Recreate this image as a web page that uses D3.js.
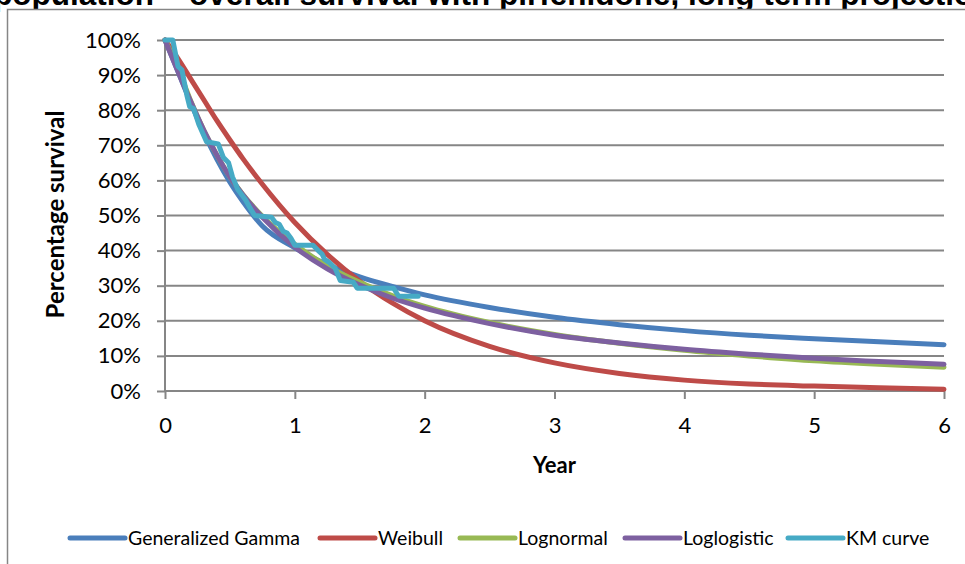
<!DOCTYPE html>
<html>
<head>
<meta charset="utf-8">
<script src="https://cdn.jsdelivr.net/npm/d3@7"></script>
<style>
  html, body { margin: 0; padding: 0; background: #fff; }
  svg { display: block; font-family: Lato, "Liberation Sans", Arial, sans-serif; }
</style>
</head>
<body>
<svg id="chart" width="965" height="564"></svg>
<script>
// Chart text
const titleText = "population \u2013 overall survival with pirfenidone, long term projections";
const xAxisTitle = "Year";
const yAxisTitle = "Percentage survival";

// Axis ticks
const yearTicks = [0, 1, 2, 3, 4, 5, 6];
const pctTicks = [0, 10, 20, 30, 40, 50, 60, 70, 80, 90, 100];

// Parametric model predictions (percent surviving) at these years
const fitYears    = [0, 0.1, 0.2, 0.3, 0.4, 0.5, 0.6, 0.75, 1, 1.25, 1.5, 1.75, 2, 2.5, 3, 3.5, 4, 4.5, 5, 5.5, 6];
const genGamma    = [100, 91, 82, 73.5, 66, 59.5, 54, 47, 40.8, 36, 32.5, 29.8, 27.4, 23.8, 21, 18.9, 17.2, 15.9, 14.9, 14.0, 13.2];
const weibull     = [100, 94.7, 88.8, 82.9, 77, 71.5, 66.2, 58.9, 48, 38.9, 31.3, 25.1, 20, 12.7, 8, 5, 3.1, 2.0, 1.4, 0.9, 0.5];
const lognormal   = [100, 92, 82.5, 74.2, 67.2, 61, 56, 49.8, 41.8, 35.6, 31, 27.2, 24.1, 19.5, 16.1, 13.6, 11.6, 10.0, 8.6, 7.6, 6.8];
const loglogistic = [100, 91, 82.3, 74.2, 67.2, 61, 55.9, 49.5, 41, 34.8, 30.2, 26.5, 23.6, 19.2, 15.9, 13.7, 11.9, 10.5, 9.3, 8.4, 7.6];

// Kaplan-Meier estimate
const kmYears    = [0, 0.06, 0.10, 0.13, 0.17, 0.19, 0.22, 0.26, 0.32, 0.41, 0.45, 0.49, 0.52, 0.56, 0.62, 0.65, 0.69, 0.82, 0.85, 0.88, 0.91, 0.94, 0.97, 1.0, 1.14, 1.18, 1.21, 1.23, 1.27, 1.31, 1.35, 1.45, 1.48, 1.76, 1.80, 1.95];
const kmSurvival = [100, 100, 92.5, 91.5, 84, 81, 80.5, 76, 71, 70.4, 66.5, 65, 61, 57.5, 54.5, 52.5, 50, 49.5, 48, 47.5, 45.5, 45, 43.5, 41.5, 41.5, 40, 39, 37.5, 36.5, 35, 31.5, 31, 29.3, 29.3, 27, 27];

const seriesNames  = ["Generalized Gamma", "Weibull", "Lognormal", "Loglogistic", "KM curve"];
const seriesColors = ["#4A7EBB", "#BE4B48", "#98B954", "#7D60A0", "#46AAC5"];

const series = [
  { name: seriesNames[0], color: seriesColors[0], years: fitYears, values: genGamma, smooth: true },
  { name: seriesNames[1], color: seriesColors[1], years: fitYears, values: weibull, smooth: true },
  { name: seriesNames[2], color: seriesColors[2], years: fitYears, values: lognormal, smooth: true },
  { name: seriesNames[3], color: seriesColors[3], years: fitYears, values: loglogistic, smooth: true },
  { name: seriesNames[4], color: seriesColors[4], years: kmYears, values: kmSurvival, smooth: false }
];

const svg = d3.select("#chart");
const gridColor = "#868686";
const plot = { left: 165, right: 944, top: 40, bottom: 391 };

const x = d3.scaleLinear().domain([0, 6]).range([plot.left, plot.right]);
const y = d3.scaleLinear().domain([0, 100]).range([plot.bottom, plot.top]);

// Title: a wide bold heading running past the top of the chart frame
const title = svg.append("text")
  .attr("x", 0)
  .attr("y", 5)
  .attr("font-family", "'Liberation Sans', Arial, sans-serif")
  .attr("font-weight", "bold")
  .attr("font-size", 31.5)
  .attr("fill", "#000")
  .text(titleText);
// place the heading so that the word "long" begins at x = 688
const longIdx = titleText.indexOf("long");
const prefixWidth = title.node().getSubStringLength(0, longIdx);
title.attr("x", 688 - prefixWidth);

// Chart frame (white fill hides whatever of the heading falls inside it)
svg.append("rect")
  .attr("x", 7.5).attr("y", 9.5)
  .attr("width", 1100).attr("height", 700)
  .attr("fill", "#fff")
  .attr("stroke", gridColor)
  .attr("stroke-width", 1.5);

// Horizontal gridlines
svg.append("g")
  .selectAll("line")
  .data(pctTicks)
  .join("line")
  .attr("x1", plot.left).attr("x2", plot.right)
  .attr("y1", d => y(d)).attr("y2", d => y(d))
  .attr("stroke", gridColor)
  .attr("stroke-width", 2);

// Y axis
const yAxis = d3.axisLeft(y)
  .tickValues(pctTicks)
  .tickSize(8)
  .tickPadding(16)
  .tickFormat(d => d + "%");
const yg = svg.append("g").attr("transform", `translate(${plot.left},0)`).call(yAxis);
yg.select(".domain").attr("stroke", gridColor).attr("stroke-width", 2)
  .attr("d", `M0,${plot.top}V${plot.bottom}`);
yg.selectAll(".tick line").attr("stroke", gridColor).attr("stroke-width", 2);
yg.selectAll(".tick text")
  .attr("font-family", "Lato, 'Liberation Sans', sans-serif")
  .attr("font-size", 22).attr("fill", "#000");

// X axis
const xAxis = d3.axisBottom(x)
  .tickValues(yearTicks)
  .tickSize(8)
  .tickPadding(18)
  .tickFormat(d3.format("d"));
const xg = svg.append("g").attr("transform", `translate(0,${plot.bottom})`).call(xAxis);
xg.select(".domain").attr("stroke", gridColor).attr("stroke-width", 2)
  .attr("d", `M${plot.left},0H${plot.right}`);
xg.selectAll(".tick line").attr("stroke", gridColor).attr("stroke-width", 2);
xg.selectAll(".tick text")
  .attr("font-family", "Lato, 'Liberation Sans', sans-serif")
  .attr("font-size", 22).attr("fill", "#000");

// Axis titles
svg.append("text")
  .attr("x", (plot.left + plot.right) / 2)
  .attr("y", 473)
  .attr("text-anchor", "middle")
  .attr("font-weight", "bold")
  .attr("font-size", 22)
  .text(xAxisTitle);

svg.append("text")
  .attr("transform", `translate(64,${(plot.top + plot.bottom) / 2 - 1}) rotate(-90)`)
  .attr("text-anchor", "middle")
  .attr("font-weight", "bold")
  .attr("font-size", 24)
  .text(yAxisTitle);

// Survival curves
const lineSmooth = d3.line().x(d => x(d[0])).y(d => y(d[1])).curve(d3.curveMonotoneX);
const lineStep = d3.line().x(d => x(d[0])).y(d => y(d[1]));

svg.append("g")
  .selectAll("path")
  .data(series)
  .join("path")
  .attr("d", s => (s.smooth ? lineSmooth : lineStep)(s.years.map((t, i) => [t, s.values[i]])))
  .attr("fill", "none")
  .attr("stroke", s => s.color)
  .attr("stroke-width", 5)
  .attr("stroke-linecap", "round")
  .attr("stroke-linejoin", "round");

// Legend
const legendY = 538;
const legendStarts = [70, 320, 460, 625, 788];
const legend = svg.append("g")
  .selectAll("g")
  .data(series)
  .join("g")
  .attr("transform", (s, i) => `translate(${legendStarts[i]},${legendY})`);
legend.append("line")
  .attr("x1", 0).attr("x2", 55)
  .attr("y1", 0).attr("y2", 0)
  .attr("stroke", s => s.color)
  .attr("stroke-width", 5)
  .attr("stroke-linecap", "round");
legend.append("text")
  .attr("x", 58)
  .attr("y", 7)
  .attr("font-size", 19.5)
  .text(s => s.name);
</script>
</body>
</html>
